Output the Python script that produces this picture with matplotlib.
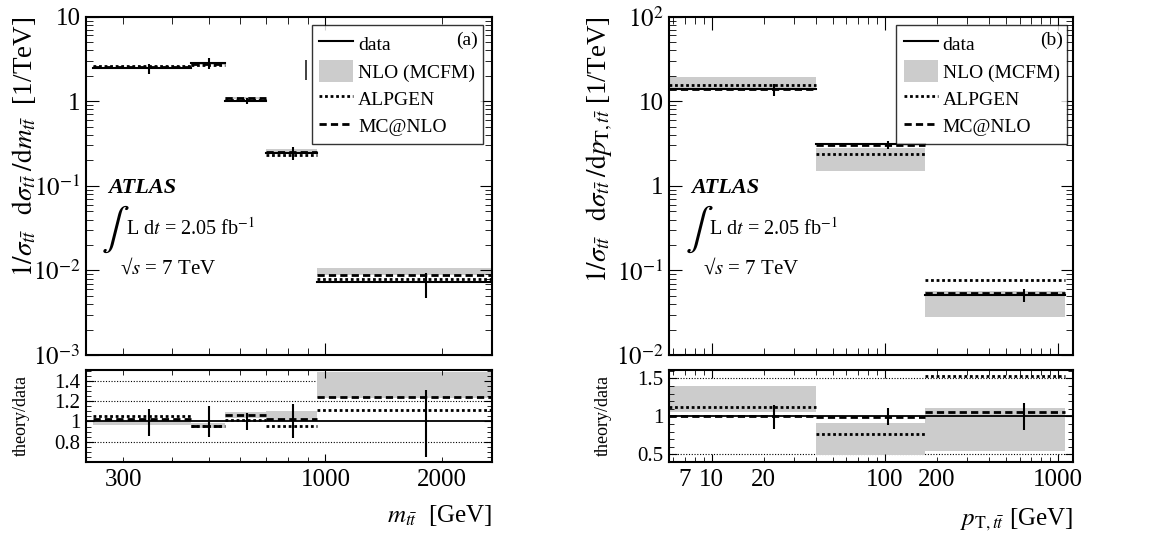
import numpy as np
import matplotlib
matplotlib.use("Agg")
import matplotlib.pyplot as plt
from matplotlib.lines import Line2D
from matplotlib.patches import Patch
from matplotlib.ticker import LogLocator, NullFormatter, AutoMinorLocator

plt.rcParams['font.family'] = ['Liberation Serif', 'DejaVu Serif']
plt.rcParams['mathtext.fontset'] = 'stix'

# m_tt distribution: bin edges [GeV], data values [1/TeV], relative errors
m_edges = [250, 450, 550, 700, 950, 2700]
m_data = [2.45, 2.85, 1.02, 0.245, 0.0072]
m_err_up = [0.125, 0.15, 0.083, 0.17, 0.31]
m_err_dn = [0.14, 0.15, 0.083, 0.165, 0.35]
# theory / data ratios
m_alpgen = [1.052, 0.951, 1.017, 0.951, 1.111]
m_mcatnlo = [1.024, 0.955, 1.062, 1.027, 1.243]
m_nlo_lo = [0.97, 0.935, 1.03, 1.017, 1.233]
m_nlo_hi = [1.0, 0.985, 1.093, 1.108, 1.485]

# pT,tt distribution
p_edges = [0, 40, 170, 1100]
p_data = [13.8, 3.09, 0.0508]
p_err_up = [0.15, 0.105, 0.175]
p_err_dn = [0.165, 0.112, 0.173]
p_alpgen = [1.117, 0.77, 1.535]
p_mcatnlo = [1.009, 0.99, 1.06]
p_nlo_lo = [1.052, 0.49, 0.55]
p_nlo_hi = [1.4, 0.907, 1.11]

# short stray vertical segment in the m_tt panel
stray_x = [890]
stray_y = [1.8, 3.1]

BAND = '#cccccc'
DOT = (0, (1, 1))
DASH = (0, (2.6, 1.5))


def draw_panel(ax, rax, edges, data, eup, edn, alp, mc, lo, hi, xlim):
    edges = np.maximum(np.array(edges, float), xlim[0])
    data = np.array(data)
    centres = (edges[:-1] + edges[1:]) / 2
    for i in range(len(data)):
        x0, x1 = edges[i], edges[i + 1]
        d = data[i]
        # main panel
        ax.fill_between([x0, x1], d * lo[i], d * hi[i], color=BAND, lw=0, zorder=1)
        ax.plot([x0, x1], [d * alp[i]] * 2, color='black', lw=2, ls=DOT, zorder=2)
        ax.plot([x0, x1], [d * mc[i]] * 2, color='black', lw=2, ls=DASH, zorder=3)
        ax.plot([x0, x1], [d, d], color='black', lw=1.5, zorder=4)
        # ratio panel
        rax.fill_between([x0, x1], lo[i], hi[i], color=BAND, lw=0, zorder=1)
        rax.plot([x0, x1], [alp[i]] * 2, color='black', lw=2, ls=DOT, zorder=2)
        rax.plot([x0, x1], [mc[i]] * 2, color='black', lw=2, ls=DASH, zorder=3)
    ax.vlines(centres, data * (1 - np.array(edn)), data * (1 + np.array(eup)),
              color='black', lw=1.5, zorder=5)
    rax.vlines(centres, 1 - np.array(edn), 1 + np.array(eup), color='black', lw=1.5, zorder=5)
    rax.axhline(1.0, color='black', lw=1.3, zorder=4)

    ax.set_xscale('log')
    ax.set_yscale('log')
    ax.set_xlim(*xlim)
    for a in (ax, rax):
        a.tick_params(which='both', direction='in', top=True, right=True, labelsize=18, pad=4)
        for s in a.spines.values():
            s.set_linewidth(1.5)
    ax.tick_params(which='major', length=9)
    ax.tick_params(which='minor', length=5)
    ax.tick_params(axis='x', which='both', labelbottom=False)
    ax.yaxis.set_minor_locator(LogLocator(subs=np.arange(2, 10)))
    ax.yaxis.set_minor_formatter(NullFormatter())
    rax.tick_params(which='major', length=6)
    rax.tick_params(which='minor', length=3.5)
    rax.tick_params(axis='y', labelsize=15)
    rax.tick_params(axis='x', which='both', labelsize=18, pad=5)


fig = plt.figure(figsize=(11.52, 5.38), dpi=100)
W, H = 1152, 538
ax_m = fig.add_axes([86 / W, 1 - 355 / H, 406 / W, 338.3 / H])
r_m = fig.add_axes([86 / W, 1 - 462 / H, 406 / W, 92 / H], sharex=ax_m)
ax_p = fig.add_axes([669.3 / W, 1 - 355 / H, 403.7 / W, 338.3 / H])
r_p = fig.add_axes([669.3 / W, 1 - 462 / H, 403.7 / W, 92 / H], sharex=ax_p)

draw_panel(ax_m, r_m, m_edges, m_data, m_err_up, m_err_dn,
           m_alpgen, m_mcatnlo, m_nlo_lo, m_nlo_hi, (240, 2700))
draw_panel(ax_p, r_p, p_edges, p_data, p_err_up, p_err_dn,
           p_alpgen, p_mcatnlo, p_nlo_lo, p_nlo_hi, (5.7, 1220))

ax_m.vlines(stray_x, stray_y[0], stray_y[1], color='#333333', lw=1.3)

# y axes of the main panels
ax_m.set_ylim(1e-3, 10)
ax_m.set_yticks([1e-3, 1e-2, 1e-1, 1, 10],
                labels=[r'$10^{-3}$', r'$10^{-2}$', r'$10^{-1}$', '1', '10'])
ax_p.set_ylim(1e-2, 1e2)
ax_p.set_yticks([1e-2, 1e-1, 1, 10, 100],
                labels=[r'$10^{-2}$', r'$10^{-1}$', '1', '10', r'$10^{2}$'])

# ratio y axes
r_m.set_ylim(0.6, 1.508)
r_m.set_yticks([0.8, 1.0, 1.2, 1.4], labels=['0.8', '1', '1.2', '1.4'])
r_m.yaxis.set_minor_locator(AutoMinorLocator(4))
for g in (0.8, 1.2, 1.4):
    r_m.axhline(g, color='black', lw=0.8, ls=(0, (1, 1.5)), zorder=0)
r_p.set_ylim(0.4, 1.61)
r_p.set_yticks([0.5, 1.0, 1.5], labels=['0.5', '1', '1.5'])
r_p.yaxis.set_minor_locator(AutoMinorLocator(5))
for g in (0.5, 1.5):
    r_p.axhline(g, color='black', lw=0.8, ls=(0, (1, 1.5)), zorder=0)

# x ticks
r_m.set_xticks([1000], labels=['1000'])
m_minor = [300, 400, 500, 600, 700, 800, 900, 2000]
r_m.set_xticks(m_minor, labels=[str(v) if v in (300, 2000) else '' for v in m_minor],
               minor=True)
r_p.set_xticks([10, 100, 1000], labels=['10', '100', '1000'])
p_minor = [6, 7, 8, 9, 20, 30, 40, 50, 60, 70, 80, 90, 200, 300, 400, 500, 600, 700, 800, 900]
r_p.set_xticks(p_minor, labels=[str(v) if v in (7, 20, 200) else '' for v in p_minor], minor=True)

# axis titles
ax_m.set_ylabel(r'$1/\sigma_{t\bar{t}}\;\;\;\mathrm{d}\sigma_{t\bar{t}}\;/\mathrm{d}m_{t\bar{t}}$  [1/TeV]',
                fontsize=19.5, loc='top')
ax_m.yaxis.set_label_coords(-0.118, 1.0)
ax_p.set_ylabel(r'$1/\sigma_{t\bar{t}}\;\;\;\mathrm{d}\sigma_{t\bar{t}}\;/\mathrm{d}p_{\mathrm{T},t\bar{t}}$ [1/TeV]',
                fontsize=19.5, loc='top')
ax_p.yaxis.set_label_coords(-0.135, 1.0)
for rax, xc in ((r_m, -0.138), (r_p, -0.142)):
    rax.set_ylabel('theory/data', fontsize=13)
    rax.yaxis.set_label_coords(xc, 0.5)
r_m.set_xlabel(r'$m_{t\bar{t}}$  [GeV]', fontsize=18, loc='right')
r_m.xaxis.set_label_coords(1.0, -0.45)
r_p.set_xlabel(r'$p_{\mathrm{T},t\bar{t}}$ [GeV]', fontsize=18, loc='right')
r_p.xaxis.set_label_coords(1.0, -0.48)

# legends and labels
handles = [Line2D([], [], color='black', lw=1.5),
           Patch(facecolor=BAND, edgecolor='none'),
           Line2D([], [], color='black', lw=2, ls=DOT),
           Line2D([], [], color='black', lw=2, ls=DASH)]
names = ['data', 'NLO (MCFM)', 'ALPGEN', 'MC@NLO']
for ax, tag, right in ((ax_m, '(a)', 0.978), (ax_p, '(b)', 0.986)):
    leg = ax.legend(handles, names, loc='upper right', bbox_to_anchor=(right, 0.975),
                    borderaxespad=0, fontsize=14, frameon=True, fancybox=False,
                    edgecolor='black', handlelength=1.75, handleheight=1.3,
                    labelspacing=0.32, borderpad=0.4, handletextpad=0.25)
    leg.get_frame().set_linewidth(1.0)
    leg.set_zorder(10)
    ax.text(right - 0.012, 0.93, tag, transform=ax.transAxes, fontsize=14,
            ha='right', va='center', zorder=11)
    ax.text(0.055, 0.494, 'ATLAS', transform=ax.transAxes, fontsize=16,
            fontweight='bold', style='italic', va='center')
    ax.text(0.038, 0.37, r'$\int$', transform=ax.transAxes, fontsize=30, va='center')
    ax.text(0.098, 0.375, r'L d$t$ = 2.05 fb$^{\mathrm{-1}}$', transform=ax.transAxes,
            fontsize=14.5, va='center')
    ax.text(0.084, 0.257, r'√$s$ = 7 TeV', transform=ax.transAxes,
            fontsize=15, va='center')

fig.savefig('out.png', dpi=100)
